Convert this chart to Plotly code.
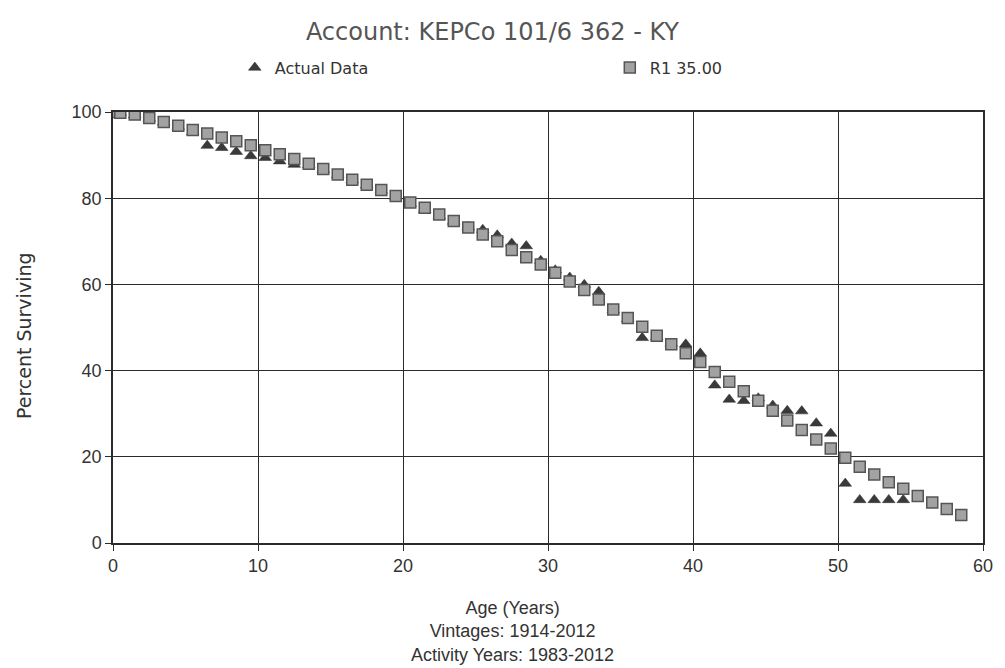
import plotly.graph_objects as go

# Ages (years) for the two series
ages_r1 = [0, 0.5] + [i + 0.5 for i in range(1, 59)]
ages_actual = [0, 0.5] + [i + 0.5 for i in range(1, 55)]

# R1 35.00 fitted curve (% surviving)
r1_values = [100.0, 99.8, 99.4, 98.6, 97.7, 96.8, 95.8, 95.0, 94.1, 93.2,
             92.3, 91.1, 90.2, 89.1, 88.0, 86.8, 85.5, 84.3, 83.1, 81.9,
             80.5, 79.0, 77.8, 76.2, 74.7, 73.2, 71.6, 70.0, 68.0, 66.3,
             64.6, 62.7, 60.7, 58.7, 56.5, 54.2, 52.2, 50.2, 48.1, 46.1,
             44.0, 42.0, 39.7, 37.4, 35.2, 33.0, 30.7, 28.4, 26.2, 24.0,
             21.9, 19.8, 17.7, 15.9, 14.1, 12.6, 10.9, 9.4, 7.9, 6.5]

# Actual data (% surviving)
actual_values = [100.0, 99.8, 99.3, 98.5, 97.6, 96.6, 95.3, 92.2, 91.7, 90.8,
                 89.8, 89.4, 88.6, 87.8, 87.7, 86.6, 85.4, 84.2, 83.0, 81.8,
                 80.4, 78.7, 77.3, 75.8, 74.6, 73.3, 72.7, 71.4, 69.5, 68.9,
                 65.5, 63.3, 61.6, 59.9, 58.3, 54.0, 52.0, 47.6, 47.8, 46.3,
                 46.1, 44.0, 36.6, 33.3, 33.0, 33.6, 31.9, 30.7, 30.6, 27.8,
                 25.4, 13.8, 10.0, 10.0, 10.0, 10.0]

x_ticks = [0, 10, 20, 30, 40, 50, 60]
y_ticks = [0, 20, 40, 60, 80, 100]

title_text = "Account: KEPCo 101/6 362 - KY"
x_title = "Age (Years)<br>Vintages: 1914-2012<br>Activity Years: 1983-2012"
y_title = "Percent Surviving"

regular = "Liberation Sans, Arial, sans-serif"
wide = "DejaVu Sans, Verdana, sans-serif"

fig = go.Figure()
fig.add_trace(go.Scatter(
    x=ages_actual, y=actual_values, mode="markers", name="Actual Data",
    marker=dict(symbol="triangle-up", size=11, color="#3a3a3a",
                line=dict(color="#2a2a2a", width=0.5)),
))
fig.add_trace(go.Scatter(
    x=ages_r1, y=r1_values, mode="markers", name="R1 35.00",
    marker=dict(symbol="square", size=11, color="#a2a2a2",
                line=dict(color="#555555", width=1.5)),
))

axis_common = dict(showline=True, linecolor="#2b2b2b", linewidth=1.5, mirror=True,
                   showgrid=True, gridcolor="#2b2b2b", gridwidth=1.2,
                   ticks="outside", ticklen=6, tickcolor="#2b2b2b", zeroline=False,
                   tickfont=dict(family=regular, size=18, color="#333333"))

fig.update_xaxes(range=[0, 60], tickvals=x_ticks, **axis_common)
fig.update_yaxes(range=[0, 100], tickvals=y_ticks, **axis_common)

fig.update_layout(
    width=1005, height=668,
    margin=dict(l=113, r=15, t=112, b=125),
    paper_bgcolor="white", plot_bgcolor="white",
    title=dict(text=title_text, x=0.49, xanchor="center", y=0.952, yanchor="middle",
               font=dict(family=wide, size=24, color="#555555")),
    showlegend=True,
    legend=dict(orientation="h", x=0.14, xanchor="left", y=1.103, yanchor="middle",
                entrywidth=330, entrywidthmode="pixels", itemwidth=30,
                font=dict(family=wide, size=16, color="#333333"),
                bgcolor="rgba(0,0,0,0)"),
    annotations=[
        dict(text=x_title, x=0.4595, y=-0.122, xref="paper", yref="paper",
             xanchor="center", yanchor="top", showarrow=False,
             font=dict(family=regular, size=18, color="#333333")),
        dict(text=y_title, x=-0.103, y=0.481, xref="paper", yref="paper",
             xanchor="center", yanchor="middle", showarrow=False, textangle=-90,
             font=dict(family=wide, size=19, color="#333333")),
    ],
)

fig.write_html("out.html")
